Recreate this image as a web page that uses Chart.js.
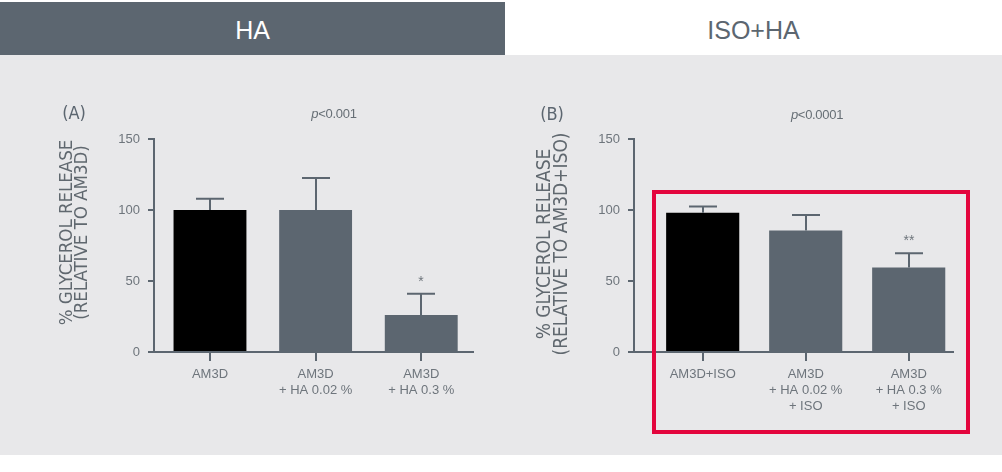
<!DOCTYPE html>
<html>
<head>
<meta charset="utf-8">
<script src="https://cdn.jsdelivr.net/npm/chart.js@4.4.0/dist/chart.umd.min.js"></script>
<style>
  body { margin: 0; width: 1002px; height: 472px; background: #fff; position: relative; overflow: hidden;
         font-family: 'Liberation Sans', Arial, sans-serif; }
  .tab { position: absolute; top: 2px; height: 53px; line-height: 57px; text-align: center; font-size: 25px; }
  #tabA { left: 0; width: 505px; background: #5c6670; color: #fff; }
  #tabB { left: 505px; width: 497px; color: #5c6670; }
  #panel { position: absolute; left: 0; top: 55px; width: 1002px; height: 400px; background: #e8e8ea; }
  canvas { position: absolute; top: 55px; }
  #chartA { left: 0; }
  #chartB { left: 500px; }
  .note { position: absolute; transform: translate(-50%, -50%); white-space: nowrap; }
  .panel-id { font-family: 'Liberation Sans Narrow', 'DejaVu Sans Condensed', sans-serif; font-size: 18px; color: #5c6670; }
  .pval { font-size: 13px; color: #666e75; letter-spacing: -0.3px; }
  #hilite { position: absolute; left: 652px; top: 190px; width: 318px; height: 244px;
            box-sizing: border-box; border: 4px solid #e3053d; }
</style>
</head>
<body>
<div class="tab" id="tabA">HA</div>
<div class="tab" id="tabB">ISO+HA</div>
<div id="panel"></div>
<canvas id="chartA" width="500" height="400"></canvas>
<canvas id="chartB" width="502" height="400"></canvas>
<div class="note panel-id" style="left:74px;top:112px">(A)</div>
<div class="note pval" style="left:334px;top:113px"><i>p</i>&lt;0.001</div>
<div class="note panel-id" style="left:552px;top:113px">(B)</div>
<div class="note pval" style="left:817px;top:114px"><i>p</i>&lt;0.0001</div>
<div id="hilite"></div>

<script>
/* data */
var CATS_A   = [['AM3D'], ['AM3D', '+ HA 0.02 %'], ['AM3D', '+ HA 0.3 %']];
var VALUES_A = [100, 100, 26];
var ERRORS_A = [8, 22.5, 15];
var STARS_A  = ['', '', '*'];

var CATS_B   = [['AM3D+ISO'], ['AM3D', '+ HA 0.02 %', '+ ISO'], ['AM3D', '+ HA 0.3 %', '+ ISO']];
var VALUES_B = [98, 85.5, 59.5];
var ERRORS_B = [4.5, 11, 10];
var STARS_B  = ['', '', '**'];

var Y_TICKS = [0, 50, 100, 150];
var TITLE_A = ['% GLYCEROL RELEASE', '(RELATIVE TO AM3D)'];
var TITLE_B = ['% GLYCEROL RELEASE', '(RELATIVE TO AM3D+ISO)'];

/* theme */
var SLATE = '#5c6670';
var TICK_TXT = '#6e757c';
var NARROW = "'Liberation Sans Narrow', 'DejaVu Sans Condensed', sans-serif";
var SANS = "'Liberation Sans', Arial, sans-serif";

/* error bars + significance stars */
var errorBars = {
  id: 'errorBars',
  afterDatasetsDraw: function (chart, args, opts) {
    var ctx = chart.ctx, xs = chart.scales.x, ys = chart.scales.y;
    var vals = chart.data.datasets[0].data;
    ctx.save();
    ctx.strokeStyle = SLATE;
    ctx.lineWidth = 2;
    vals.forEach(function (pt, i) {
      var px = Math.round(xs.getPixelForValue(pt.x));
      var y0 = ys.getPixelForValue(pt.y);
      var y1 = ys.getPixelForValue(pt.y + opts.errors[i]);
      ctx.beginPath();
      ctx.moveTo(px, y0);
      ctx.lineTo(px, y1);
      ctx.moveTo(px - 14, y1);
      ctx.lineTo(px + 14, y1);
      ctx.stroke();
      if (opts.stars[i]) {
        ctx.fillStyle = TICK_TXT;
        ctx.font = '14px ' + SANS;
        ctx.textAlign = 'center';
        ctx.textBaseline = 'alphabetic';
        ctx.fillText(opts.stars[i], px, y1 - 8);
      }
    });
    ctx.restore();
  }
};

/* two-line rotated y title */
var yTitle = {
  id: 'yTitle',
  afterDraw: function (chart, args, opts) {
    var ctx = chart.ctx;
    ctx.save();
    ctx.fillStyle = '#60686f';
    ctx.font = opts.size + 'px ' + NARROW;
    ctx.textAlign = 'center';
    ctx.textBaseline = 'middle';
    opts.lines.forEach(function (t, i) {
      ctx.save();
      ctx.translate(opts.x[i], opts.yMid);
      ctx.rotate(-Math.PI / 2);
      ctx.fillText(t, 0, 0);
      ctx.restore();
    });
    ctx.restore();
  }
};

function makeChart(id, cats, values, errors, stars, title, geo) {
  var colors = values.map(function (v, i) { return i === 0 ? '#000000' : SLATE; });
  return new Chart(document.getElementById(id), {
    type: 'bar',
    data: {
      datasets: [{
        data: values.map(function (v, i) { return { x: i, y: v }; }),
        backgroundColor: colors,
        borderWidth: 0,
        categoryPercentage: 1,
        barPercentage: geo.barPct
      }]
    },
    plugins: [errorBars, yTitle],
    options: {
      responsive: false,
      animation: false,
      devicePixelRatio: 1,
      layout: { padding: { left: 0, right: geo.padRight, top: 84, bottom: 0 } },
      plugins: {
        legend: { display: false },
        tooltip: { enabled: false },
        errorBars: { errors: errors, stars: stars },
        yTitle: { lines: title, x: geo.titleX, yMid: geo.titleY, size: geo.titleSize }
      },
      scales: {
        x: {
          type: 'linear',
          min: geo.xMin,
          max: geo.xMax,
          offset: false,
          afterBuildTicks: function (s) { s.ticks = cats.map(function (c, i) { return { value: i }; }); },
          afterFit: function (s) { s.height = 103; },
          ticks: {
            autoSkip: false,
            maxRotation: 0,
            padding: 6,
            color: TICK_TXT,
            font: { family: SANS, size: 13, lineHeight: 1.2 },
            callback: function (v) { return cats[v]; }
          },
          grid: { display: true, drawOnChartArea: false, drawTicks: true, tickLength: 9, color: SLATE, lineWidth: 2, offset: false },
          border: { display: true, color: SLATE, width: 2 }
        },
        y: {
          min: 0,
          max: 150,
          afterBuildTicks: function (s) { s.ticks = Y_TICKS.map(function (v) { return { value: v }; }); },
          afterFit: function (s) { s.width = geo.yWidth; },
          ticks: { padding: 8, color: TICK_TXT, font: { family: SANS, size: 13 } },
          grid: { display: true, drawOnChartArea: false, drawTicks: true, tickLength: 6, color: SLATE, lineWidth: 2 },
          border: { display: true, color: SLATE, width: 2 }
        }
      }
    }
  });
}

makeChart('chartA', CATS_A, VALUES_A, ERRORS_A, STARS_A, TITLE_A, {
  barPct: 0.69, padRight: 27, yWidth: 154, xMin: -0.53, xMax: 2.49,
  titleX: [67.5, 82.5], titleY: 177.5, titleSize: 18.5
});
makeChart('chartB', CATS_B, VALUES_B, ERRORS_B, STARS_B, TITLE_B, {
  barPct: 0.71, padRight: 49, yWidth: 134, xMin: -0.667, xMax: 2.43,
  titleX: [45.5, 62.5], titleY: 189, titleSize: 19
});
</script>
</body>
</html>
